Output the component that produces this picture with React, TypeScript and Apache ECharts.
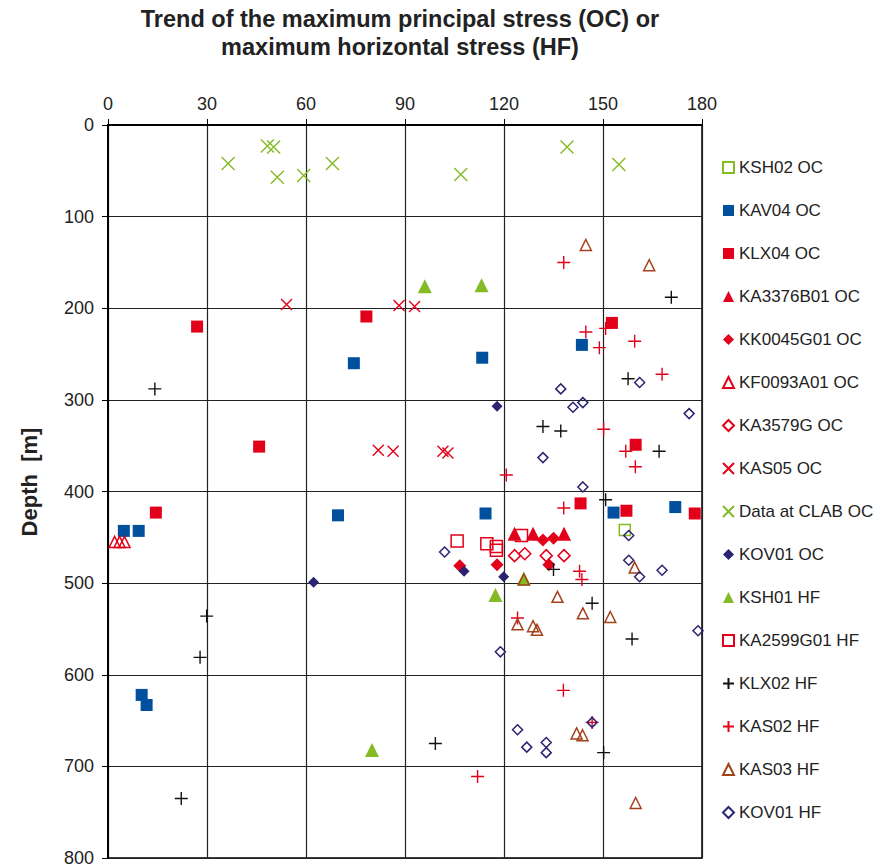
import React, { useEffect, useRef } from "react";
import * as echarts from "echarts";

// Trend (degrees) vs depth (m) for each borehole / method
const KSH02_OC = [[156.6, 442]];
const KAV04_OC = [[4.8, 443], [9.3, 443], [10.2, 622], [11.7, 633], [69.7, 426], [74.5, 260], [113.4, 254], [114.4, 424], [143.6, 240], [153.2, 423], [171.9, 417]];
const KLX04_OC = [[14.5, 423], [27, 220], [45.8, 351], [78.3, 209], [143.2, 413], [152.7, 216], [157.1, 421], [159.9, 349], [177.8, 424]];
const KA3376B01_OC = [[123.2, 446], [128.8, 446], [138.2, 446]];
const KK0045G01_OC = [[106.6, 481], [117.9, 480], [131.8, 453], [133.6, 480], [135, 451]];
const KF0093A01_OC = [[2, 455], [3.5, 455], [5, 455]];
const KA3579G_OC = [[123.2, 470], [126.3, 468], [132.8, 470], [138.2, 470]];
const KAS05_OC = [[54.1, 196], [81.9, 355], [86.4, 356], [88.2, 197], [92.9, 198], [101.5, 356], [103, 358]];
const CLAB_OC = [[36.4, 42], [48.3, 23], [50.2, 24], [51.3, 57], [59.3, 55], [68, 42], [106.9, 54], [139.1, 24], [154.8, 43]];
const KOV01_OC = [[62.3, 499], [107.9, 487], [117.9, 307], [119.9, 493]];
const KSH01_HF = [[80, 682], [96, 176], [113.2, 175], [117.4, 513], [126, 495]];
const KA2599G01_HF = [[105.8, 454], [114.8, 457], [117.7, 460], [117.7, 464], [125.3, 448]];
const KLX02_HF = [[14.2, 288], [22.2, 735], [27.9, 581], [29.9, 536], [99.2, 675], [131.8, 329], [135, 485], [137.2, 334], [146.7, 522], [150.2, 685], [150.8, 409], [157.6, 277], [158.8, 561], [167, 356], [170.7, 188]];
const KAS02_HF = [[112, 711], [120.7, 382], [124.1, 538], [138, 617], [138.1, 150], [138.1, 418], [142.9, 487], [143.6, 496], [144.8, 226], [146.7, 652], [148.9, 243], [150.2, 332], [150.8, 222], [156.9, 356], [159.6, 236], [159.8, 373], [167.9, 272]];
const KAS03_HF = [[124.1, 545], [126, 496], [128.8, 547], [130, 551], [136.2, 515], [142, 664], [143.8, 666], [143.9, 533], [144.8, 131], [152.2, 537], [159.6, 483], [159.9, 740], [164, 153]];
const KOV01_HF = [[102, 466], [118.9, 575], [124.1, 660], [126.9, 679], [131.8, 363], [132.8, 674], [132.8, 685], [137.2, 288], [140.9, 308], [143.9, 303], [143.9, 395], [146.7, 652], [157.8, 448], [157.8, 475], [161.1, 281], [161.1, 493], [167.9, 486], [176.1, 315], [178.8, 552]];

const X_TICKS = [0, 30, 60, 90, 120, 150, 180];
const Y_TICKS = [0, 100, 200, 300, 400, 500, 600, 700, 800];

const RED = "#e2001a";
const BLUE = "#00509e";
const GREEN = "#84bb25";
const NAVY = "#2a2472";
const BROWN = "#a3421b";
const BLACK = "#111111";

const PLUS = "path://M5,0 L5,10 M0,5 L10,5";
const CROSS = "path://M0,0 L10,10 M10,0 L0,10";

const FONT = "Liberation Sans, Arial, sans-serif";

type Style = { symbol: string; size: number; color: string; open?: boolean; line?: boolean };

function makeSeries(name: string, data: number[][], s: Style) {
  let itemStyle: any;
  if (s.line) {
    itemStyle = { color: s.color, borderColor: s.color, borderWidth: 1.4, opacity: 1 };
  } else if (s.open) {
    itemStyle = { color: "rgba(255,255,255,0)", borderColor: s.color, borderWidth: 1.5, opacity: 1 };
  } else {
    itemStyle = { color: s.color, borderWidth: 0, opacity: 1 };
  }
  return {
    name,
    type: "scatter",
    data,
    symbol: s.symbol,
    symbolSize: s.size,
    itemStyle,
    emphasis: { disabled: true },
  };
}

export default function App() {
  const ref = useRef<HTMLDivElement>(null);

  useEffect(() => {
    if (!ref.current) return;
    const chart = echarts.init(ref.current, null, { renderer: "svg" });

    const series = [
      makeSeries("KSH02 OC", KSH02_OC, { symbol: "rect", size: 11, color: GREEN, open: true }),
      makeSeries("KAV04 OC", KAV04_OC, { symbol: "rect", size: 12, color: BLUE }),
      makeSeries("KLX04 OC", KLX04_OC, { symbol: "rect", size: 12, color: RED }),
      makeSeries("KA3376B01 OC", KA3376B01_OC, { symbol: "triangle", size: 14, color: RED }),
      makeSeries("KK0045G01 OC", KK0045G01_OC, { symbol: "diamond", size: 13, color: RED }),
      makeSeries("KF0093A01 OC", KF0093A01_OC, { symbol: "triangle", size: 11, color: RED, open: true }),
      makeSeries("KA3579G OC", KA3579G_OC, { symbol: "diamond", size: 12, color: RED, open: true }),
      makeSeries("KAS05 OC", KAS05_OC, { symbol: CROSS, size: 11, color: RED, line: true }),
      makeSeries("Data at CLAB OC", CLAB_OC, { symbol: CROSS, size: 13, color: GREEN, line: true }),
      makeSeries("KOV01 OC", KOV01_OC, { symbol: "diamond", size: 11, color: NAVY }),
      makeSeries("KSH01 HF", KSH01_HF, { symbol: "triangle", size: 14, color: GREEN }),
      makeSeries("KA2599G01 HF", KA2599G01_HF, { symbol: "rect", size: 12, color: RED, open: true }),
      makeSeries("KLX02 HF", KLX02_HF, { symbol: PLUS, size: 13, color: BLACK, line: true }),
      makeSeries("KAS02 HF", KAS02_HF, { symbol: PLUS, size: 13, color: RED, line: true }),
      makeSeries("KAS03 HF", KAS03_HF, { symbol: "triangle", size: 11, color: BROWN, open: true }),
      makeSeries("KOV01 HF", KOV01_HF, { symbol: "diamond", size: 10, color: NAVY, open: true }),
    ];

    chart.setOption({
      animation: false,
      backgroundColor: "#ffffff",
      title: {
        text: "Trend of the maximum principal stress (OC) or\nmaximum horizontal stress (HF)",
        left: 400,
        textAlign: "center",
        top: 5,
        padding: 0,
        textStyle: {
          fontFamily: FONT,
          fontWeight: "bold",
          fontSize: 23.5,
          lineHeight: 28,
          color: "#222",
        },
      },
      legend: {
        orient: "vertical",
        left: 722,
        top: 159,
        padding: 0,
        itemWidth: 11,
        itemHeight: 11,
        itemGap: 26,
        textStyle: {
          fontFamily: FONT,
          fontSize: 17,
          color: "#222",
        },
        data: series.map((s) => s.name),
      },
      graphic: [
        {
          type: "text",
          x: 29,
          y: 482,
          rotation: Math.PI / 2,
          style: {
            text: "Depth  [m]",
            fontFamily: FONT,
            fontWeight: "bold",
            fontSize: 22,
            fill: "#222",
            textAlign: "center",
            textVerticalAlign: "middle",
          },
        },
      ],
      grid: {
        left: 108,
        right: 183,
        top: 125,
        bottom: 10,
        show: true,
        borderColor: "#000",
        borderWidth: 1.5,
      },
      xAxis: {
        type: "value",
        position: "top",
        min: X_TICKS[0],
        max: X_TICKS[X_TICKS.length - 1],
        interval: 30,
        axisLine: { show: true, lineStyle: { color: "#000", width: 2 } },
        axisTick: { show: true, length: 6, lineStyle: { color: "#000", width: 1 } },
        axisLabel: { margin: 12, fontFamily: FONT, fontSize: 18, color: "#222" },
        splitLine: { show: true, lineStyle: { color: "#222", width: 1.2 } },
      },
      yAxis: {
        type: "value",
        inverse: true,
        min: Y_TICKS[0],
        max: Y_TICKS[Y_TICKS.length - 1],
        interval: 100,
        axisLine: { show: true, lineStyle: { color: "#000", width: 2 } },
        axisTick: { show: true, length: 6, lineStyle: { color: "#000", width: 1 } },
        axisLabel: { margin: 14, fontFamily: FONT, fontSize: 18, color: "#222" },
        splitLine: { show: true, lineStyle: { color: "#222", width: 1.2 } },
      },
      series,
    });

    return () => chart.dispose();
  }, []);

  return (
    <div
      ref={ref}
      style={{ position: "absolute", left: 0, top: 0, width: 885, height: 868 }}
    />
  );
}
